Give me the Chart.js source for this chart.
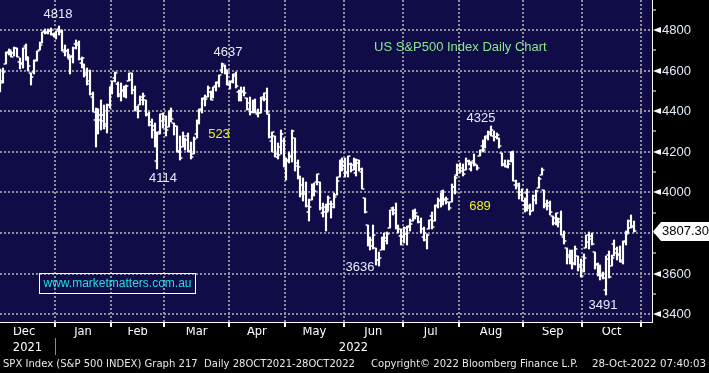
<!DOCTYPE html>
<html>
<head>
<meta charset="utf-8">
<script src="https://cdn.jsdelivr.net/npm/chart.js@4.4.0/dist/chart.umd.min.js"></script>
<style>
  html, body { margin: 0; padding: 0; background: #000; }
  #wrap { width: 709px; height: 373px; }
</style>
</head>
<body>
<div id="wrap"><canvas id="chart" width="709" height="373"></canvas></div>
<script>
// trading days from 3 Dec 2021 to 27 Oct 2022 (index 0 = 3 Dec 2021)
// month axis: names and number of trading days in each month
const monthNames = ['Dec', 'Jan', 'Feb', 'Mar', 'Apr', 'May', 'Jun', 'Jul', 'Aug', 'Sep', 'Oct'];
const monthTradingDays = [22, 20, 19, 23, 20, 21, 21, 20, 23, 21, 21];
const hiddenDecDays = 2; // 1 and 2 Dec are left of the window
const yearLabels = ['2021', '2022'];
const yTicks = [3400, 3500, 3600, 3700, 3800, 3900, 4000, 4100, 4200, 4300, 4400, 4500, 4600, 4700, 4800, 4900];

const open = [
  4589,4548,4632,4691,4691,4688,4710,4643,4636,4719,4653,4588,4595,4650,4704,4734,4795,4789,4794,4775,
  4778,4805,4788,4693,4698,4655,4669,4729,4734,4638,4632,4588,4547,4471,4356,4367,4381,4381,4336,4432,
  4520,4566,4535,4483,4506,4480,4547,4553,4506,4413,4429,4456,4456,4385,4333,4325,4156,4298,4354,
  4363,4323,4401,4342,4327,4203,4223,4253,4280,4203,4189,4288,4345,4407,4462,4469,4493,4470,4523,4541,4603,4624,4599,
  4540,4548,4572,4494,4475,4494,4463,4438,4394,4449,4386,4391,4472,4489,4386,4255,4278,4187,4223,4254,
  4131,4160,4181,4270,4128,4081,4035,3990,3904,3964,4013,4052,4052,3899,3928,3919,3943,3930,3985,4077,4151,
  4150,4095,4138,4135,4096,4147,4102,3974,3838,3765,3764,3728,3666,3715,3734,3775,3822,3921,3913,3825,3786,
  3781,3793,3832,3859,3888,3881,3852,3780,3764,3818,3884,3861,3935,3955,4007,3966,3953,3951,4026,4087,
  4112,4104,4108,4155,4116,4156,4133,4181,4227,4225,4269,4290,4280,4273,4266,4195,4133,4127,4153,4199,4035,4041,4001,
  3937,3995,3931,3909,3960,4023,4084,4013,3941,3932,3881,3850,3875,3871,3782,3727,3683,3686,3652,3687,3633,
  3610,3726,3753,3772,3707,3648,3596,3591,3520,3690,3639,3746,3703,3689,3657,3762,3799,3826,3835
];
const high = [
  4608,4613,4694,4705,4695,4714,4710,4660,4713,4732,4667,4588,4651,4698,4741,4791,4807,4804,4809,4787,
  4797,4819,4798,4725,4708,4673,4714,4749,4744,4665,4632,4612,4602,4495,4417,4411,4453,4429,4433,4517,
  4550,4595,4543,4540,4522,4531,4590,4589,4526,4426,4473,4490,4456,4395,4362,4342,4295,4385,4389,
  4378,4401,4417,4342,4327,4277,4299,4268,4291,4248,4271,4358,4413,4465,4482,4522,4501,4521,4546,4576,4637,4628,4603,
  4549,4584,4593,4504,4521,4520,4464,4471,4454,4460,4410,4471,4488,4513,4386,4299,4278,4241,4308,4270,
  4170,4200,4308,4270,4158,4081,4069,4049,3965,4039,4046,4091,4052,3946,3943,3982,3956,3999,4075,4158,4168,
  4167,4178,4143,4169,4165,4160,4119,3974,3838,3778,3838,3728,3708,3780,3802,3803,3914,3928,3946,3837,3819,
  3830,3832,3871,3911,3919,3881,3873,3829,3796,3864,3902,3940,3974,3999,4012,3975,3953,4040,4079,4140,
  4145,4140,4168,4161,4152,4187,4137,4211,4258,4280,4302,4325,4302,4293,4266,4195,4160,4157,4201,4203,4063,4045,4015,
  3970,4018,3943,3988,4011,4077,4119,4013,3962,3959,3881,3900,3876,3907,3811,3727,3716,3718,3737,3687,3671,
  3698,3792,3807,3798,3707,3652,3641,3608,3685,3712,3690,3763,3729,3736,3758,3811,3863,3886,3860
];
const low = [
  4495,4541,4632,4675,4666,4670,4668,4607,4611,4652,4600,4531,4583,4646,4704,4734,4780,4778,4775,4766,
  4758,4774,4699,4671,4663,4582,4638,4707,4650,4615,4569,4530,4478,4395,4223,4287,4305,4310,4292,4414,
  4484,4544,4470,4452,4471,4465,4547,4484,4401,4365,4429,4430,4374,4327,4267,4222,4115,4287,4315,
  4280,4323,4346,4285,4200,4158,4223,4210,4200,4162,4188,4268,4336,4391,4424,4469,4456,4465,4501,4518,4590,4581,4530,
  4508,4539,4514,4450,4450,4475,4408,4381,4393,4391,4370,4391,4449,4384,4268,4201,4175,4163,4189,4124,
  4063,4147,4149,4106,4068,3975,3958,3929,3859,3964,3984,4034,3912,3877,3810,3909,3875,3925,3985,4077,4105,
  4074,4074,4099,4109,4080,4107,4017,3900,3734,3715,3722,3640,3637,3715,3718,3744,3822,3890,3820,3799,3739,
  3752,3742,3809,3859,3869,3847,3802,3759,3722,3817,3819,3861,3922,3928,3938,3943,3911,3951,3993,4079,
  4096,4080,4108,4135,4107,4129,4112,4177,4201,4220,4257,4278,4253,4262,4219,4130,4124,4120,4148,4058,4017,3965,3955,
  3904,3906,3887,3906,3945,4023,4084,3921,3913,3888,3837,3839,3828,3789,3746,3647,3645,3623,3641,3610,3584,
  3605,3726,3723,3739,3621,3588,3569,3574,3492,3580,3639,3687,3667,3656,3647,3742,3799,3824,3804
];
const close = [
  4538,4592,4687,4701,4667,4712,4669,4634,4710,4669,4621,4568,4649,4697,4726,4791,4786,4793,4779,4766,
  4797,4794,4701,4696,4677,4670,4713,4726,4659,4663,4577,4533,4483,4398,4410,4356,4350,4327,4432,4516,
  4547,4589,4477,4501,4484,4522,4587,4504,4419,4402,4471,4475,4380,4349,4305,4226,4289,4385,4374,
  4306,4387,4363,4329,4201,4171,4278,4260,4204,4173,4262,4358,4412,4463,4461,4512,4456,4520,4543,4576,4632,4602,4530,
  4546,4583,4525,4481,4500,4488,4413,4397,4447,4393,4392,4462,4459,4394,4272,4296,4175,4184,4288,4132,
  4155,4175,4300,4147,4123,3991,4001,3935,3930,4024,4008,4089,3924,3901,3901,3974,3941,3979,4058,4158,4132,
  4101,4177,4109,4121,4161,4116,4018,3901,3750,3735,3790,3667,3675,3765,3760,3796,3912,3900,3822,3819,3785,
  3825,3831,3845,3903,3899,3854,3819,3802,3790,3863,3831,3937,3960,3999,3962,3967,3921,4024,4072,4130,
  4119,4091,4155,4152,4145,4140,4122,4210,4207,4280,4297,4305,4274,4284,4228,4138,4129,4141,4199,4058,4031,3986,3955,
  3967,3924,3908,3980,4006,4067,4110,3933,3946,3901,3873,3900,3856,3790,3758,3693,3655,3647,3719,3640,3586,
  3678,3791,3783,3745,3640,3612,3589,3577,3670,3583,3678,3720,3695,3666,3753,3797,3859,3831,3807.30
];

// annotations placed in data coordinates (day index, index level)
const notes = [
  { text: '4818', i: 20.6, v: 4879, color: '#e4ecfb' },
  { text: '4637', i: 81.2, v: 4692, color: '#e4ecfb' },
  { text: '523', i: 78.0, v: 4287, color: '#f0f020' },
  { text: '4114', i: 58.0, v: 4071, color: '#e4ecfb' },
  { text: '3636', i: 128.3, v: 3632, color: '#e4ecfb' },
  { text: '4325', i: 171.4, v: 4366, color: '#e4ecfb' },
  { text: '689', i: 171.1, v: 3933, color: '#f0f020' },
  { text: '3491', i: 214.9, v: 3445, color: '#e4ecfb' }
];

const X_MIN = -0.1, X_MAX = 232.4;
const Y_MIN = 3361, Y_MAX = 4948;
const NAVY = '#0f0c48';
const GRID = '#8f8f9c';

// month boundaries and centres in day-index units
const bounds = [];
let b = -hiddenDecDays - 0.5;
monthTradingDays.forEach(n => { bounds.push(b); b += n; });
bounds.push(b);
const monthCenters = monthNames.map((m, k) => (bounds[k] + bounds[k + 1]) / 2);
const yearCenters = [(X_MIN + bounds[1]) / 2, (bounds[1] + X_MAX) / 2];

// open tick sits left of the bar, close tick right of it
function tickImage(side) {
  const c = document.createElement('canvas');
  c.width = 6; c.height = 2;
  const g = c.getContext('2d');
  g.fillStyle = '#fff';
  g.fillRect(side === 'left' ? 0.6 : 3.6, 0.25, 1.8, 1.5);
  return c;
}

const backdrop = {
  id: 'backdrop',
  beforeDraw(chart) {
    const { ctx, chartArea: a } = chart;
    ctx.save();
    ctx.fillStyle = '#000';
    ctx.fillRect(0, 0, chart.width, chart.height);
    ctx.fillStyle = NAVY;
    ctx.fillRect(a.left, a.top, a.right - a.left, a.bottom - a.top);
    ctx.restore();
  }
};

const overlay = {
  id: 'overlay',
  afterDraw(chart) {
    const { ctx } = chart;
    const xs = chart.scales.x, ys = chart.scales.y;
    ctx.save();

    // pointers on the price axis
    ctx.fillStyle = '#fff';
    yTicks.filter(v => v % 200 === 0).forEach(v => {
      const py = ys.getPixelForValue(v);
      ctx.beginPath();
      ctx.moveTo(ys.left + 1, py);
      ctx.lineTo(ys.left + 9, py - 3);
      ctx.lineTo(ys.left + 9, py + 3);
      ctx.closePath();
      ctx.fill();
    });

    // last price tag
    const last = close[close.length - 1];
    const ly = Math.round(ys.getPixelForValue(last)) + 0.5;
    ctx.beginPath();
    ctx.moveTo(ys.left + 1, ly);
    ctx.lineTo(ys.left + 9, ly - 9.5);
    ctx.lineTo(chart.width, ly - 9.5);
    ctx.lineTo(chart.width, ly + 9.5);
    ctx.lineTo(ys.left + 9, ly + 9.5);
    ctx.closePath();
    ctx.fill();
    ctx.fillStyle = '#000';
    ctx.font = '13px "Liberation Sans", Arial, sans-serif';
    ctx.textAlign = 'left';
    ctx.textBaseline = 'middle';
    ctx.fillText(last.toFixed(2), ys.left + 10, ly);

    // level / move annotations
    ctx.textAlign = 'center';
    notes.forEach(n => {
      ctx.fillStyle = n.color;
      ctx.fillText(n.text, xs.getPixelForValue(n.i), ys.getPixelForValue(n.v));
    });

    // chart title
    ctx.textAlign = 'left';
    ctx.fillStyle = '#8ce68c';
    ctx.fillText('US S&P500 Index Daily Chart', xs.getPixelForValue(133.3), ys.getPixelForValue(4716));

    // watermark
    const wx = xs.getPixelForValue(13.9), wy = ys.getPixelForValue(3604);
    ctx.strokeStyle = '#fff';
    ctx.lineWidth = 1;
    ctx.strokeRect(Math.round(wx) + 0.5, Math.round(wy) + 0.5, 156, 20);
    ctx.fillStyle = '#22dde6';
    ctx.font = '12px "Liberation Sans", Arial, sans-serif';
    ctx.textAlign = 'center';
    ctx.fillText('www.marketmatters.com.au', Math.round(wx) + 78.5, Math.round(wy) + 11);

    // year separator
    const sx = Math.round(xs.getPixelForValue(bounds[1])) + 0.5;
    ctx.strokeStyle = '#8a8a8a';
    ctx.beginPath();
    ctx.moveTo(sx, 338);
    ctx.lineTo(sx, 355);
    ctx.stroke();

    // footer
    ctx.fillStyle = '#e8e8e8';
    ctx.font = '11px "DejaVu Sans", sans-serif';
    ctx.textAlign = 'left';
    ctx.fillText('SPX Index (S&P 500 INDEX) Graph 217  Daily 28OCT2021-28OCT2022', 3, 364, 352);
    ctx.fillText('Copyright\u00A9 2022 Bloomberg Finance L.P.', 371, 364, 207);
    ctx.fillText('28-Oct-2022 07:40:03', 592, 364, 114);
    ctx.restore();
  }
};

const idx = close.map((c, i) => i);
const labelFont = { family: 'DejaVu Sans', size: 11.5 };

new Chart(document.getElementById('chart'), {
  type: 'bar',
  data: {
    datasets: [
      {
        type: 'bar',
        data: idx.map(i => ({ x: i, y: [low[i], high[i]] })),
        backgroundColor: '#fff',
        borderWidth: 0,
        barThickness: 1.5,
        xAxisID: 'x', yAxisID: 'y'
      },
      {
        type: 'scatter',
        data: idx.map(i => ({ x: i, y: open[i] })),
        pointStyle: tickImage('left'),
        pointRadius: 3,
        xAxisID: 'x', yAxisID: 'y'
      },
      {
        type: 'scatter',
        data: idx.map(i => ({ x: i, y: close[i] })),
        pointStyle: tickImage('right'),
        pointRadius: 3,
        xAxisID: 'x', yAxisID: 'y'
      }
    ]
  },
  options: {
    responsive: false,
    animation: false,
    events: [],
    layout: { autoPadding: false, padding: { left: 0, top: 0, right: 0, bottom: 15 } },
    plugins: { legend: { display: false }, tooltip: { enabled: false } },
    scales: {
      x: {
        type: 'linear', position: 'bottom', weight: 0,
        min: X_MIN, max: X_MAX, offset: false, alignToPixels: true,
        afterBuildTicks: s => { s.ticks = bounds.filter(v => v > X_MIN && v < X_MAX).map(v => ({ value: v })); },
        ticks: { display: false, autoSkip: false },
        grid: { offset: false, color: GRID, lineWidth: 2, drawTicks: true, tickLength: 5, tickColor: '#fff', tickWidth: 2 },
        border: { display: true, color: '#fff', width: 1, dash: [2, 2] },
        afterFit: s => { s.height = 5; s.paddingLeft = 0; s.paddingRight = 0; }
      },
      xm: {
        type: 'linear', position: 'bottom', weight: 1,
        min: X_MIN, max: X_MAX, offset: false,
        afterBuildTicks: s => { s.ticks = monthCenters.map(v => ({ value: v })); },
        ticks: { color: '#fff', font: labelFont, padding: -2, autoSkip: false, maxRotation: 0,
                 callback: (v, i) => monthNames[i] },
        grid: { display: false, drawTicks: false, offset: false },
        border: { display: false },
        afterFit: s => { s.height = 15; s.paddingLeft = 0; s.paddingRight = 0; }
      },
      xy: {
        type: 'linear', position: 'bottom', weight: 2,
        min: X_MIN, max: X_MAX, offset: false,
        afterBuildTicks: s => { s.ticks = yearCenters.map(v => ({ value: v })); },
        ticks: { color: '#fff', font: labelFont, padding: -1, autoSkip: false, maxRotation: 0,
                 callback: (v, i) => yearLabels[i] },
        grid: { display: false, drawTicks: false, offset: false },
        border: { display: false },
        afterFit: s => { s.height = 16; s.paddingLeft = 0; s.paddingRight = 0; }
      },
      y: {
        type: 'linear', position: 'right',
        min: Y_MIN, max: Y_MAX, alignToPixels: true,
        afterBuildTicks: s => { s.ticks = yTicks.map(v => ({ value: v })); },
        ticks: {
          color: '#e2eafa', font: { family: 'Liberation Sans', size: 13 }, padding: 6, autoSkip: false,
          callback: v => (v % 200 === 0 ? String(v) : '')
        },
        grid: {
          color: c => (c.tick && c.tick.value % 200 === 0 ? GRID : 'rgba(0,0,0,0)'),
          lineWidth: 2,
          drawTicks: true, tickLength: 4, tickWidth: 1,
          tickColor: c => (c.tick && c.tick.value % 200 !== 0 ? '#fff' : 'rgba(0,0,0,0)')
        },
        border: { display: true, color: '#fff', width: 1, dash: [2, 2] },
        afterFit: s => { s.width = 57; s.paddingTop = 0; s.paddingBottom = 0; }
      }
    }
  },
  plugins: [backdrop, overlay]
});
</script>
</body>
</html>
